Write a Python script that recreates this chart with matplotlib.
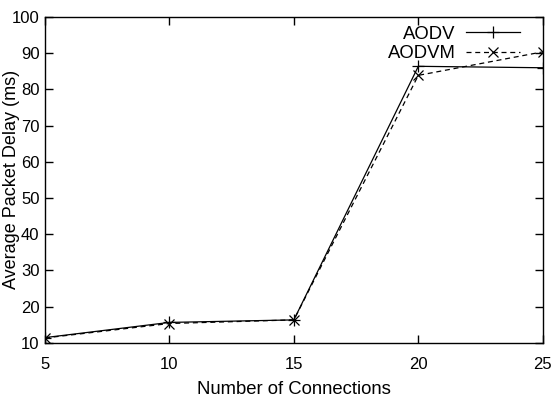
import matplotlib.pyplot as plt

plt.rcParams['font.family'] = ['Liberation Sans', 'DejaVu Sans']

connections = [5, 10, 15, 20, 25]
aodv = [11.4, 15.6, 16.3, 86.4, 86.0]
aodvm = [11.3, 15.3, 16.3, 83.9, 90.4]

fig = plt.figure(figsize=(5.55, 3.98), dpi=100)
ax = fig.add_axes([0.081, 0.139, 0.897, 0.818])

ax.plot(connections, aodv, color='black', lw=0.9, marker='+', ms=9, mew=0.9,
        label='AODV')
ax.plot(connections, aodvm, color='black', lw=0.9, ls=(0, (4, 3)), marker='x',
        ms=7, mew=0.9, label='AODVM')

ax.set_xlim(5, 25)
ax.set_ylim(10, 100)
ax.set_xticks(connections)
ax.set_yticks(range(10, 101, 10))
ax.tick_params(direction='in', length=6, width=1, top=True, right=True,
               labelsize=12)
ax.tick_params(axis='x', pad=10)
ax.tick_params(axis='y', pad=4)
for s in ax.spines.values():
    s.set_linewidth(1.0)

ax.set_xlabel('Number of Connections', fontsize=13.3, labelpad=7)
ax.set_ylabel('Average Packet Delay (ms)', fontsize=13)
ax.yaxis.set_label_coords(-0.05, 0.5)

leg = ax.legend(loc='upper right', bbox_to_anchor=(0.937, 0.935),
                bbox_transform=fig.transFigure, frameon=False,
                markerfirst=False, fontsize=13.3, handlelength=2.9,
                handletextpad=0.6, labelspacing=0.12, borderpad=0,
                borderaxespad=0)
for t in leg.get_texts():
    t.set_ha('right')

fig.savefig('out.png', dpi=100)
